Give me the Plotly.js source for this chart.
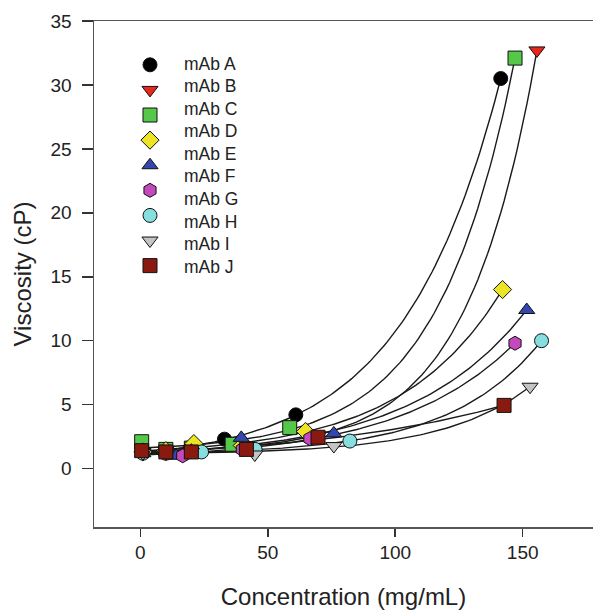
<!DOCTYPE html>
<html>
<head>
<meta charset="utf-8">
<script src="https://cdn.plot.ly/plotly-3.0.1.min.js"></script>
<style>html,body{margin:0;padding:0;background:#fff;}#chart{width:593px;height:610px;}</style>
</head>
<body>
<div id="chart"></div>
<script>
// ---- data ----
const legendLabels = ["mAb A","mAb B","mAb C","mAb D","mAb E","mAb F","mAb G","mAb H","mAb I","mAb J"];

const concA = [1, 10, 20, 33, 61, 141.4];
const viscA = [1.3, 1.5, 1.6, 2.3, 4.2, 30.5];
const concB = [1, 10, 20, 40, 69.7, 155.6];
const viscB = [1.3, 1.4, 1.5, 1.8, 2.6, 32.7];
const concC = [0.5, 10, 20, 36, 58.6, 147.0];
const viscC = [2.1, 1.5, 1.6, 1.9, 3.2, 32.1];
const concD = [1, 10, 21, 40, 64.8, 142.1];
const viscD = [1.3, 1.4, 1.95, 1.8, 2.9, 14.0];
const concE = [1, 14, 20, 39.6, 75.9, 151.6];
const viscE = [1.2, 1.0, 1.4, 2.4, 2.75, 12.4];
const concF = [1, 10, 16.6, 40, 66.5, 147.0];
const viscF = [1.2, 1.2, 1.0, 1.5, 2.34, 9.8];
const concG = [1, 10, 24, 45, 82.2, 157.4];
const viscG = [1.2, 1.2, 1.3, 1.5, 2.15, 10.0];
const concH = [1, 10, 20, 44.9, 75.9, 152.9];
const viscH = [1.2, 1.2, 1.3, 1.1, 1.76, 6.4];
const concI = [0.5, 10, 20, 41.6, 69.7, 142.7];
const viscI = [1.4, 1.3, 1.3, 1.5, 2.45, 4.94];

const xTicks = [0, 50, 100, 150];
const yTicks = [0, 5, 10, 15, 20, 25, 30, 35];

// ---- styles ----
const series = [
  {x: concA, y: viscA, symbol: "circle",        color: "#000000"},
  {x: concB, y: viscB, symbol: "triangle-down", color: "#e8281c"},
  {x: concC, y: viscC, symbol: "square",        color: "#55c84a"},
  {x: concD, y: viscD, symbol: "diamond",       color: "#ece424"},
  {x: concE, y: viscE, symbol: "triangle-up",   color: "#3446b0"},
  {x: concF, y: viscF, symbol: "hexagon",       color: "#c449bf"},
  {x: concG, y: viscG, symbol: "circle",        color: "#86dede"},
  {x: concH, y: viscH, symbol: "triangle-down", color: "#c4c4c4"},
  {x: concI, y: viscI, symbol: "square",        color: "#8a1a10"}
];

// exponential growth fit y = y0 + a*exp(b*x), least squares on the data
function fitExp(xs, ys) {
  let best = null;
  for (let b = 0.001; b <= 0.12; b += 0.0001) {
    const e = xs.map(v => Math.exp(b * v));
    const n = xs.length;
    const me = e.reduce((s, v) => s + v, 0) / n;
    const my = ys.reduce((s, v) => s + v, 0) / n;
    let cov = 0, vr = 0;
    for (let i = 0; i < n; i++) { cov += (e[i] - me) * (ys[i] - my); vr += (e[i] - me) ** 2; }
    const a = cov / vr, y0 = my - a * me;
    let sse = 0;
    for (let i = 0; i < n; i++) sse += (ys[i] - (y0 + a * e[i])) ** 2;
    if (!best || sse < best.sse) best = {a, b, y0, sse};
  }
  return best;
}

const traces = [];
series.forEach(s => {
  const f = fitExp(s.x, s.y);
  const x0 = Math.min(...s.x), x1 = Math.max(...s.x);
  const fx = [], fy = [];
  for (let k = 0; k <= 120; k++) {
    const xv = x0 + (x1 - x0) * k / 120;
    fx.push(xv); fy.push(f.y0 + f.a * Math.exp(f.b * xv));
  }
  traces.push({x: fx, y: fy, mode: "lines", line: {color: "#1a1a1a", width: 1.4},
               showlegend: false, hoverinfo: "skip"});
});
series.forEach((s, i) => {
  traces.push({x: s.x, y: s.y, mode: "markers", name: "",
    marker: {symbol: s.symbol, color: s.color, size: 14, line: {color: "#111", width: 1}},
    showlegend: true, hovertemplate: legendLabels[i] + ": %{x}, %{y}<extra></extra>"});
});

// legend labels as annotations
const plotTop = 20.7, plotBot = 527.3, plotLeft = 94, plotRight = 593;
const annotations = legendLabels.map((t, i) => ({
  text: t, xref: "paper", yref: "paper",
  x: (182 - plotLeft) / (plotRight - plotLeft),
  y: 1 - (63.3 + i * 22.6 - plotTop) / (plotBot - plotTop),
  xanchor: "left", yanchor: "middle", showarrow: false,
  font: {family: "Liberation Sans, Arial, sans-serif", size: 17.5, color: "#222"}
}));

const layout = {
  width: 593, height: 610,
  margin: {l: 94, r: 0, t: 21, b: 83},
  paper_bgcolor: "#fff", plot_bgcolor: "#fff",
  font: {family: "Liberation Sans, Arial, sans-serif", color: "#222"},
  showlegend: true,
  legend: {x: (130 - plotLeft) / (plotRight - plotLeft), y: 1 - (47 - plotTop) / (plotBot - plotTop),
           xanchor: "left", yanchor: "top", bgcolor: "rgba(0,0,0,0)",
           font: {size: 17}, itemsizing: "trace"},
  xaxis: {range: [-18.2, 177.6], tickvals: xTicks, ticks: "outside", ticklen: 8, tickwidth: 1.5,
          tickcolor: "#333", showline: true, linecolor: "#555", linewidth: 1.5, mirror: true,
          showgrid: false, zeroline: false, tickfont: {size: 19, color: "#222"},
          title: {text: "Concentration (mg/mL)", font: {size: 24, color: "#222"}, standoff: 26}},
  yaxis: {range: [-4.57, 35], tickvals: yTicks, ticks: "outside", ticklen: 11, tickwidth: 1.5,
          tickcolor: "#333", showline: true, linecolor: "#555", linewidth: 1.5,
          showgrid: false, zeroline: false, tickfont: {size: 19, color: "#222"},
          ticklabelstandoff: 6,
          title: {text: "Viscosity (cP)", font: {size: 24, color: "#222"}, standoff: 12}},
  annotations: annotations
};

Plotly.newPlot("chart", traces, layout, {displayModeBar: false, staticPlot: true});
</script>
</body>
</html>
